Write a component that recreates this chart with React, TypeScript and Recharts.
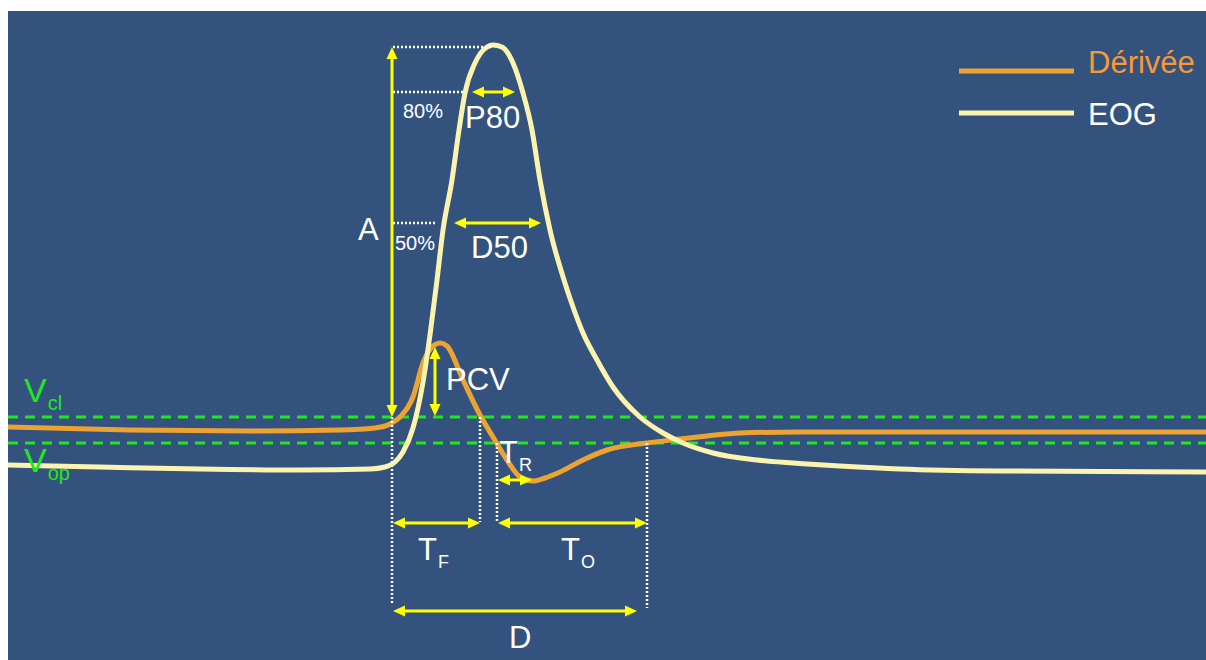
import React from 'react';
import { LineChart, Line, XAxis, YAxis, ReferenceLine, ReferenceDot, Legend } from 'recharts';

const BG = '#33537e';
const EOG_COLOR = '#fcf4ae';
const DERIV_COLOR = '#eda332';
const DERIV_TEXT = '#f59a34';
const ARROW = '#ffff00';
const GUIDE = '#22e622';
const FONT = '"Liberation Sans", Arial, sans-serif';

// time (arbitrary units) vs amplitude
const eogT = [0, 92, 192, 292, 362, 377, 387, 395, 405, 410, 415, 422, 429, 435, 444, 451, 457, 467, 479, 485,
    494, 505, 515, 524, 532, 542, 556, 565, 575, 589, 605, 632, 655, 675, 705, 749, 799, 832, 892, 992, 1198];
const eogV = [195, 193, 191, 190, 191, 193, 198, 208, 232, 252, 278, 325, 380, 430, 480, 530, 567, 597, 613, 615,
    613, 597, 567, 530, 480, 430, 380, 353, 327, 300, 273, 243, 227, 217, 207, 200, 196, 194, 191, 189, 188];

const derT = [0, 122, 242, 332, 367, 382, 392, 405, 415, 425, 432, 439, 455, 472, 485, 499, 512, 525, 537, 552,
    575, 599, 639, 672, 699, 732, 792, 992, 1198];
const derV = [233, 230, 229, 230, 232, 236, 243, 263, 297, 314, 317, 314, 280, 245, 223, 200, 183, 179, 182, 188,
    200, 210, 217, 221, 224, 227, 228, 228, 228];

// thresholds (closed / open)
const V_CL = 243;
const V_OP = 217;

// double-headed measurement arrows: [t1, v1, t2, v2]
const arrows: [number, number, number, number][] = [
    [384, 243, 384, 613],   // A
    [464, 568, 507, 568],   // P80
    [446, 437, 533, 437],   // D50
    [427, 313, 427, 244],   // PCV
    [490, 180, 524, 180],   // T_R
    [385, 137, 472, 137],   // T_F
    [490, 137, 639, 137],   // T_O
    [385, 49, 629, 49],     // D
];

// dotted guide lines: [t1, v1, t2, v2]
const guides: [number, number, number, number][] = [
    [385, 613, 485, 613],
    [385, 568, 457, 568],
    [385, 437, 429, 437],
    [384, 243, 384, 57],
    [472, 243, 472, 138],
    [489, 217, 489, 139],
    [639, 217, 639, 52],
];

// text labels: [text, subscript, t, v(baseline), kind]
type Lbl = [string, string, number, number, 'big' | 'small' | 'green'];
const labels: Lbl[] = [
    ['A', '', 350, 420, 'big'],
    ['80%', '', 395, 542, 'small'],
    ['50%', '', 387, 410, 'small'],
    ['P80', '', 457, 532, 'big'],
    ['D50', '', 463, 402, 'big'],
    ['PCV', '', 438, 270, 'big'],
    ['T', 'R', 491, 197, 'big'],
    ['T', 'F', 410, 100, 'big'],
    ['T', 'O', 553, 100, 'big'],
    ['D', '', 501, 12, 'big'],
    ['V', 'cl', 16, 258, 'green'],
    ['V', 'op', 16, 188, 'green'],
];

const eogData = eogT.map((t, i) => ({ t, v: eogV[i] }));
const derData = derT.map((t, i) => ({ t, v: derV[i] }));

const ArrowShape = (p: any) => {
    const { x1, y1, x2, y2 } = p;
    const dx = x2 - x1, dy = y2 - y1;
    const len = Math.hypot(dx, dy) || 1;
    const ux = dx / len, uy = dy / len;
    const head = 12, half = 5.5;
    const tri = (x: number, y: number, ax: number, ay: number) =>
        `${x},${y} ${x - ax * head - ay * half},${y - ay * head + ax * half} ${x - ax * head + ay * half},${y - ay * head - ax * half}`;
    return (
        <g>
            <line x1={x1 + ux * 6} y1={y1 + uy * 6} x2={x2 - ux * 6} y2={y2 - uy * 6} stroke={ARROW} strokeWidth={3} />
            <polygon points={tri(x2, y2, ux, uy)} fill={ARROW} />
            <polygon points={tri(x1, y1, -ux, -uy)} fill={ARROW} />
        </g>
    );
};

const labelShape = (l: Lbl) => (p: any) => {
    const [text, sub, , , kind] = l;
    const size = kind === 'small' ? 20 : kind === 'green' ? 34 : 31;
    const subSize = kind === 'green' ? 20 : 18;
    const color = kind === 'green' ? GUIDE : '#ffffff';
    return (
        <text x={p.cx} y={p.cy} fill={color} fontSize={size} fontFamily={FONT}>
            {text}
            {sub && <tspan dx={1} dy={8} fontSize={subSize}>{sub}</tspan>}
        </text>
    );
};

const LegendBox = () => (
    <svg width={258} height={110}>
        <line x1={11} y1={30} x2={126} y2={30} stroke={DERIV_COLOR} strokeWidth={5} />
        <text x={140} y={32} fill={DERIV_TEXT} fontSize={31} fontFamily={FONT}>Dérivée</text>
        <line x1={11} y1={72} x2={126} y2={72} stroke={EOG_COLOR} strokeWidth={5} />
        <text x={140} y={84} fill="#ffffff" fontSize={31} fontFamily={FONT}>EOG</text>
    </svg>
);

export default function App() {
    return (
        <div style={{ position: 'absolute', left: 8, top: 11, width: 1198, height: 649, background: BG }}>
            <LineChart width={1198} height={649} margin={{ top: 0, right: 0, bottom: 0, left: 0 }}>
                <XAxis dataKey="t" type="number" domain={[0, 1198]} hide allowDataOverflow />
                <YAxis type="number" domain={[0, 649]} hide allowDataOverflow />
                <ReferenceLine y={V_CL} stroke={GUIDE} strokeWidth={3} strokeDasharray="10 7" />
                <ReferenceLine y={V_OP} stroke={GUIDE} strokeWidth={3} strokeDasharray="10 7" />
                <Line data={derData} dataKey="v" name="Dérivée" type="monotone" stroke={DERIV_COLOR} strokeWidth={5}
                    dot={false} activeDot={false} isAnimationActive={false} />
                <Line data={eogData} dataKey="v" name="EOG" type="monotone" stroke={EOG_COLOR} strokeWidth={5}
                    dot={false} activeDot={false} isAnimationActive={false} />
                {guides.map((g, i) => (
                    <ReferenceLine key={'g' + i} segment={[{ x: g[0], y: g[1] }, { x: g[2], y: g[3] }]}
                        stroke="#ffffff" strokeWidth={2.5} strokeDasharray="2 2" />
                ))}
                {arrows.map((a, i) => (
                    <ReferenceLine key={'a' + i} segment={[{ x: a[0], y: a[1] }, { x: a[2], y: a[3] }]}
                        shape={ArrowShape} />
                ))}
                {labels.map((l, i) => (
                    <ReferenceDot key={'l' + i} x={l[2]} y={l[3]} r={0} shape={labelShape(l)} />
                ))}
                <Legend layout="horizontal" verticalAlign="middle" align="center"
                    wrapperStyle={{ left: 940, top: 30, width: 258, height: 110 }} content={LegendBox} />
            </LineChart>
        </div>
    );
}
